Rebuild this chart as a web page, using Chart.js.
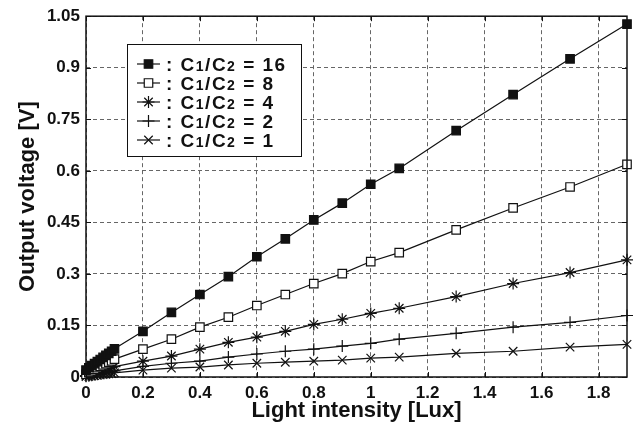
<!DOCTYPE html>
<html>
<head>
<meta charset="utf-8">
<script src="https://cdn.jsdelivr.net/npm/chart.js@4.4.1/dist/chart.umd.min.js"></script>
<style>
  body { margin: 0; background: #fff; }
  #wrap { width: 641px; height: 432px; }
</style>
</head>
<body>
<div id="wrap"><canvas id="lightChart" width="641" height="432"></canvas></div>
<script>
// Intensidad de luz (Lux), puntos medidos
const luxValues = [0, 0.01, 0.02, 0.03, 0.04, 0.05, 0.06, 0.07, 0.08, 0.09, 0.1,
  0.2, 0.3, 0.4, 0.5, 0.6, 0.7, 0.8, 0.9, 1.0, 1.1, 1.3, 1.5, 1.7, 1.9];

// Tension de salida (V) para cada relacion C1/C2
const ratio16 = [0.020, 0.027, 0.033, 0.039, 0.045, 0.051, 0.057, 0.063, 0.069, 0.075, 0.082,
  0.133, 0.188, 0.240, 0.292, 0.350, 0.402, 0.457, 0.506, 0.561, 0.607, 0.717, 0.822, 0.926, 1.027];
const ratio8 = [0.008, 0.013, 0.018, 0.022, 0.027, 0.031, 0.035, 0.039, 0.043, 0.047, 0.052,
  0.081, 0.110, 0.145, 0.174, 0.208, 0.240, 0.272, 0.301, 0.336, 0.362, 0.428, 0.492, 0.553, 0.619];
const ratio4 = [0.004, 0.007, 0.010, 0.013, 0.015, 0.018, 0.020, 0.023, 0.025, 0.028, 0.030,
  0.046, 0.061, 0.081, 0.101, 0.116, 0.133, 0.153, 0.168, 0.185, 0.200, 0.234, 0.272, 0.304, 0.341];
const ratio2 = [0.002, 0.004, 0.005, 0.007, 0.008, 0.010, 0.011, 0.013, 0.014, 0.016, 0.018,
  0.031, 0.040, 0.046, 0.058, 0.067, 0.075, 0.081, 0.090, 0.098, 0.110, 0.127, 0.145, 0.159, 0.179];
const ratio1 = [0.001, 0.002, 0.003, 0.004, 0.005, 0.006, 0.007, 0.008, 0.009, 0.010, 0.012,
  0.020, 0.026, 0.029, 0.035, 0.040, 0.043, 0.046, 0.049, 0.055, 0.058, 0.069, 0.075, 0.087, 0.095];

const seriesLabels = ['16', '8', '4', '2', '1'];

// Marcas de los ejes
const xTicks = [0, 0.2, 0.4, 0.6, 0.8, 1, 1.2, 1.4, 1.6, 1.8];
const xTickLabels = ['0', '0.2', '0.4', '0.6', '0.8', '1', '1.2', '1.4', '1.6', '1.8'];
const yTicks = [0, 0.15, 0.3, 0.45, 0.6, 0.75, 0.9, 1.05];
const yTickLabels = ['0', '0.15', '0.3', '0.45', '0.6', '0.75', '0.9', '1.05'];

const FONT = '"Liberation Sans", Arial, sans-serif';

function toPoints(values) {
  return values.map((v, i) => ({ x: luxValues[i], y: v }));
}

function makeSet(label, values, style, fill) {
  return {
    label: label,
    data: toPoints(values),
    showLine: true,
    borderColor: '#111',
    borderWidth: 1.2,
    pointStyle: style,
    pointRadius: 6,
    pointBackgroundColor: fill,
    pointBorderColor: '#111',
    pointBorderWidth: 1.2,
    pointHoverRadius: 6,
    tension: 0,
    clip: false
  };
}

// Marcas cortas hacia dentro en los cuatro lados
const innerTicks = {
  id: 'innerTicks',
  afterDraw(chart) {
    const { ctx, chartArea: a, scales: { x, y } } = chart;
    ctx.save();
    ctx.strokeStyle = '#111';
    ctx.lineWidth = 1;
    ctx.beginPath();
    xTicks.forEach(v => {
      const px = Math.round(x.getPixelForValue(v)) + 0.5;
      ctx.moveTo(px, a.bottom); ctx.lineTo(px, a.bottom - 5);
      ctx.moveTo(px, a.top); ctx.lineTo(px, a.top + 5);
    });
    yTicks.forEach(v => {
      const py = Math.round(y.getPixelForValue(v)) + 0.5;
      ctx.moveTo(a.left, py); ctx.lineTo(a.left + 5, py);
      ctx.moveTo(a.right, py); ctx.lineTo(a.right - 5, py);
    });
    ctx.stroke();
    ctx.lineWidth = 1.5;
    ctx.strokeRect(a.left, a.top, a.right - a.left, a.bottom - a.top);
    ctx.restore();
  }
};

// Leyenda dentro del area del grafico
const boxLegend = {
  id: 'boxLegend',
  afterDraw(chart) {
    const ctx = chart.ctx;
    const bx = 127, by = 44, bw = 174, bh = 112;
    ctx.save();
    ctx.fillStyle = '#fff';
    ctx.fillRect(bx, by, bw, bh);
    ctx.strokeStyle = '#111';
    ctx.lineWidth = 1;
    ctx.strokeRect(bx + 0.5, by + 0.5, bw, bh);
    chart.data.datasets.forEach((ds, i) => {
      const cy = by + 20 + i * 19;
      ctx.strokeStyle = '#111';
      ctx.lineWidth = 1.2;
      ctx.beginPath();
      ctx.moveTo(137, cy); ctx.lineTo(160, cy);
      ctx.stroke();
      ctx.fillStyle = ds.pointBackgroundColor;
      Chart.helpers.drawPoint(ctx, {
        pointStyle: ds.pointStyle, radius: 6, borderWidth: 1.2, rotation: 0
      }, 148.5, cy);
      // texto ": C1/C2 = n" con subindices
      ctx.fillStyle = '#111';
      ctx.textBaseline = 'alphabetic';
      ctx.letterSpacing = '1.5px';
      let tx = 166;
      const base = cy + 7;
      const big = 'bold 19px ' + FONT, small = 'bold 14px ' + FONT;
      const parts = [[': C', big, 0], ['1', small, 0], ['/C', big, 0], ['2', small, 0], [' = ' + seriesLabels[i], big, 0]];
      parts.forEach(p => {
        ctx.font = p[1];
        ctx.fillText(p[0], tx, base + p[2]);
        tx += ctx.measureText(p[0]).width;
      });
    });
    ctx.restore();
  }
};

// Rejilla discontinua (v4: border.dash; v3: grid.borderDash)
const gridOpts = { color: '#666', drawTicks: false, lineWidth: 1, borderDash: [4, 3] };
const borderOpts = { display: false, dash: [4, 3] };

const ctx = document.getElementById('lightChart').getContext('2d');
const lightChart = new Chart(ctx, {
  type: 'scatter',
  data: {
    datasets: [
      makeSet('C1/C2 = 16', ratio16, 'rect', '#111'),
      makeSet('C1/C2 = 8', ratio8, 'rect', '#fff'),
      makeSet('C1/C2 = 4', ratio4, 'star', '#fff'),
      makeSet('C1/C2 = 2', ratio2, 'cross', '#fff'),
      makeSet('C1/C2 = 1', ratio1, 'crossRot', '#fff')
    ]
  },
  options: {
    responsive: false,
    animation: false,
    events: [],
    layout: { padding: { top: 14, right: 14, left: 0, bottom: 0 } },
    plugins: { legend: { display: false }, tooltip: { enabled: false } },
    scales: {
      x: {
        type: 'linear',
        min: 0,
        max: 1.9,
        afterBuildTicks: s => { s.ticks = xTicks.map(v => ({ value: v })); },
        afterFit: s => { s.height = 55; },
        grid: gridOpts,
        border: borderOpts,
        ticks: {
          padding: 6,
          color: '#111',
          font: { family: FONT, size: 17, weight: 'bold' },
          callback: (v, i) => xTickLabels[i]
        },
        title: {
          display: true,
          text: 'Light intensity [Lux]',
          color: '#111',
          font: { family: FONT, size: 22, weight: 'bold', lineHeight: 1 },
          padding: { top: 0, bottom: 10 }
        }
      },
      y: {
        type: 'linear',
        min: 0,
        max: 1.05,
        afterBuildTicks: s => { s.ticks = yTicks.map(v => ({ value: v })); },
        afterFit: s => { s.width = 86; },
        grid: gridOpts,
        border: borderOpts,
        ticks: {
          padding: 6,
          color: '#111',
          font: { family: FONT, size: 17, weight: 'bold' },
          callback: (v, i) => yTickLabels[i]
        },
        title: {
          display: true,
          text: 'Output voltage [V]',
          color: '#111',
          font: { family: FONT, size: 22, weight: 'bold', lineHeight: 1 },
          padding: { top: 17, bottom: 0 }
        }
      }
    }
  },
  plugins: [innerTicks, boxLegend]
});
</script>
</body>
</html>
